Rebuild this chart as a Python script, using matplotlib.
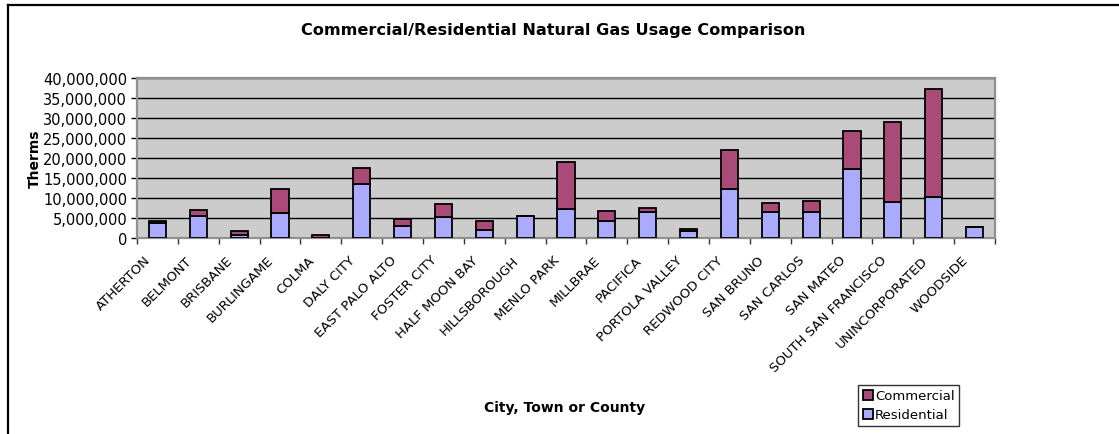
import numpy as np
import matplotlib.pyplot as plt
import matplotlib.transforms as mtransforms
from matplotlib.lines import Line2D
from matplotlib.ticker import FuncFormatter, MultipleLocator

# --- data (therms) ---
cities = ['ATHERTON', 'BELMONT', 'BRISBANE', 'BURLINGAME', 'COLMA', 'DALY CITY',
          'EAST PALO ALTO', 'FOSTER CITY', 'HALF MOON BAY', 'HILLSBOROUGH',
          'MENLO PARK', 'MILLBRAE', 'PACIFICA', 'PORTOLA VALLEY', 'REDWOOD CITY',
          'SAN BRUNO', 'SAN CARLOS', 'SAN MATEO', 'SOUTH SAN FRANCISCO',
          'UNINCORPORATED', 'WOODSIDE']
residential = [3.8e6, 5.5e6, 0.8e6, 6.3e6, 0.1e6, 13.5e6,
               3.1e6, 5.2e6, 2.1e6, 5.5e6,
               7.3e6, 4.2e6, 6.5e6, 1.7e6, 12.3e6,
               6.4e6, 6.4e6, 17.3e6, 9.1e6,
               10.3e6, 2.7e6]
commercial = [0.5e6, 1.6e6, 0.9e6, 6.0e6, 0.65e6, 4.1e6,
              1.6e6, 3.2e6, 2.1e6, 0.1e6,
              11.7e6, 2.6e6, 1.1e6, 0.5e6, 9.8e6,
              2.4e6, 2.9e6, 9.5e6, 20.0e6,
              26.9e6, 0.15e6]

RES_COLOR = '#AAAAFF'
COM_COLOR = '#A94A78'
W, H = 1119, 435

fig = plt.figure(figsize=(W / 100, H / 100), dpi=100)
ax = fig.add_axes([137 / W, (H - 239) / H, 858 / W, 160 / H])
ax.set_facecolor('#CCCCCC')

x = np.arange(len(cities))
ax.bar(x, residential, width=0.42, color=RES_COLOR, edgecolor='black',
       linewidth=1.3, label='Residential', zorder=3)
ax.bar(x, commercial, width=0.42, bottom=residential, color=COM_COLOR,
       edgecolor='black', linewidth=1.3, label='Commercial', zorder=3)

ax.set_xlim(-0.5, len(cities) - 0.5)
ax.set_ylim(0, 40e6)
ax.yaxis.set_major_locator(MultipleLocator(5e6))
ax.yaxis.set_major_formatter(FuncFormatter(lambda v, p: f'{int(v):,}'))
ax.yaxis.grid(True, color='black', linewidth=1)
ax.set_axisbelow(True)

ax.set_xticks(x)
ax.set_xticklabels(cities, rotation=45, ha='right', rotation_mode='anchor')
ax.set_xticks(np.arange(-0.5, len(cities)), minor=True)
ax.tick_params(axis='x', which='major', length=0, pad=8, labelsize=9.5)
ax.tick_params(axis='x', which='minor', length=4, width=1, color='#333333')
ax.tick_params(axis='y', length=4, width=1, labelsize=10.5, pad=3)
# shift rotated labels a bit left/down like the original
shift = mtransforms.ScaledTranslation(-13 / 100, -4 / 100, fig.dpi_scale_trans)
for lbl in ax.get_xticklabels():
    lbl.set_transform(lbl.get_transform() + shift)

for s in ax.spines.values():
    s.set_color('#909090')
    s.set_linewidth(1.6)

ax.set_ylabel('Therms', fontweight='bold', fontsize=10, labelpad=1)
fig.text(565 / W, 1 - 408 / H, 'City, Town or County', fontweight='bold',
         fontsize=10, ha='center', va='center')
fig.text(553 / W, 1 - 31 / H, 'Commercial/Residential Natural Gas Usage Comparison',
         fontweight='bold', fontsize=11.6, ha='center', va='center')

# legend, commercial first
handles, labels = ax.get_legend_handles_labels()
leg = fig.legend(handles[::-1], labels[::-1], loc='lower left',
                 bbox_to_anchor=(858 / W, 1 - 427 / H), fontsize=9.5,
                 frameon=True, fancybox=False, handlelength=0.75,
                 handleheight=0.75, handletextpad=0.2, borderpad=0.35,
                 labelspacing=0.45, borderaxespad=0)
leg.get_frame().set_edgecolor('black')
leg.get_frame().set_linewidth(1)

# chart area border (left + top edges visible)
fig.add_artist(Line2D([8 / W, 8 / W], [0, 1 - 6 / H], transform=fig.transFigure,
                      color='black', linewidth=1.6))
fig.add_artist(Line2D([8 / W, 1], [1 - 6 / H, 1 - 6 / H], transform=fig.transFigure,
                      color='black', linewidth=1.6))

fig.savefig('out.png', dpi=100)
